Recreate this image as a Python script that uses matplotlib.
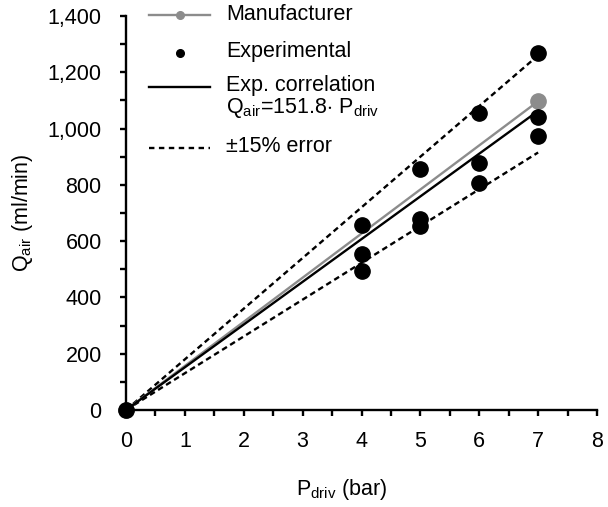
import matplotlib
matplotlib.use("Agg")
import matplotlib.pyplot as plt
from matplotlib.ticker import FuncFormatter, MultipleLocator
from matplotlib.lines import Line2D

plt.rcParams["font.family"] = ["Liberation Sans", "DejaVu Sans"]
plt.rcParams["mathtext.fontset"] = "custom"
plt.rcParams["mathtext.rm"] = "Liberation Sans"
plt.rcParams["mathtext.it"] = "Liberation Sans"

# measured points (bar, ml/min)
exp_p = [0, 4, 4, 4, 5, 5, 5, 6, 6, 6, 7, 7, 7]
exp_q = [0, 657, 554, 495, 855, 680, 655, 1057, 878, 808, 1267, 1042, 972]

# manufacturer curve
man_p = [0, 7]
man_q = [0, 1097]

# correlation Q = 151.8 * P and the error band, end points
corr_p = [0, 7]
corr_q = [0, 1062.6]
upper_q = [0, 1260]
lower_q = [0, 915]

legend_labels = ["Manufacturer", "Experimental", "Exp. correlation",
                 r"Q$_\mathregular{air}$=151.8$\cdot$ P$_\mathregular{driv}$", "±15% error"]

gray = "#8c8c8c"
fs = 15.5
W, H = 608, 507
DASH = (2.4, 1.6)

fig = plt.figure(figsize=(W / 100, H / 100), dpi=100)
ax = fig.add_axes([126 / W, 1 - 410 / H, 471 / W, 394 / H])

ax.plot(corr_p, upper_q, "k--", lw=1.7, dashes=DASH)
ax.plot(corr_p, lower_q, "k--", lw=1.7, dashes=DASH)
ax.plot(man_p, man_q, "-o", color=gray, lw=1.7, ms=11, clip_on=False)
ax.plot(corr_p, corr_q, "k-", lw=1.7)
ax.plot(exp_p, exp_q, "o", color="k", ms=11, ls="none", clip_on=False, zorder=3)

ax.set_xlim(0, 8)
ax.set_ylim(0, 1400)
ax.xaxis.set_major_locator(MultipleLocator(1))
ax.xaxis.set_minor_locator(MultipleLocator(0.5))
ax.yaxis.set_major_locator(MultipleLocator(200))
ax.yaxis.set_minor_locator(MultipleLocator(100))
ax.yaxis.set_major_formatter(FuncFormatter(lambda v, _: f"{int(v):,}"))

for s in ["top", "right"]:
    ax.spines[s].set_visible(False)
for s in ["left", "bottom"]:
    ax.spines[s].set_linewidth(1.7)
ax.tick_params(which="both", direction="out", width=1.7, length=4.5, labelsize=fs, colors="k")
ax.tick_params(axis="x", pad=10.5)
ax.tick_params(axis="y", pad=13)

ax.set_xlabel(r"P$_\mathregular{driv}$ (bar)", fontsize=fs)
ax.xaxis.set_label_coords(0.457, -0.17)
ax.set_ylabel(r"Q$_\mathregular{air}$ (ml/min)", fontsize=fs)
ax.yaxis.set_label_coords(-0.193, 0.5)

# hand-made legend (rows are unevenly spaced in the original)
def fx(px):
    return px / W

def fy(py):
    return 1 - py / H

tr = fig.transFigure
hx = [fx(149), fx(210)]
mx = fx(180)
fig.add_artist(Line2D(hx, [fy(15)] * 2, color=gray, lw=1.7, transform=tr))
fig.add_artist(Line2D([mx], [fy(15)], color=gray, marker="o", ms=5.5, transform=tr))
fig.add_artist(Line2D([mx], [fy(53)], color="k", marker="o", ms=5.5, transform=tr))
fig.add_artist(Line2D(hx, [fy(87)] * 2, color="k", lw=1.7, transform=tr))
fig.add_artist(Line2D(hx, [fy(148)] * 2, color="k", lw=1.7, ls="--", dashes=(2.3, 1.9), transform=tr))

row_y = [15, 52, 85, 108, 147]
for lab, yy in zip(legend_labels, row_y):
    fig.text(fx(226), fy(yy), lab, fontsize=fs, va="center", ha="left")

fig.savefig("out.png", dpi=100)
